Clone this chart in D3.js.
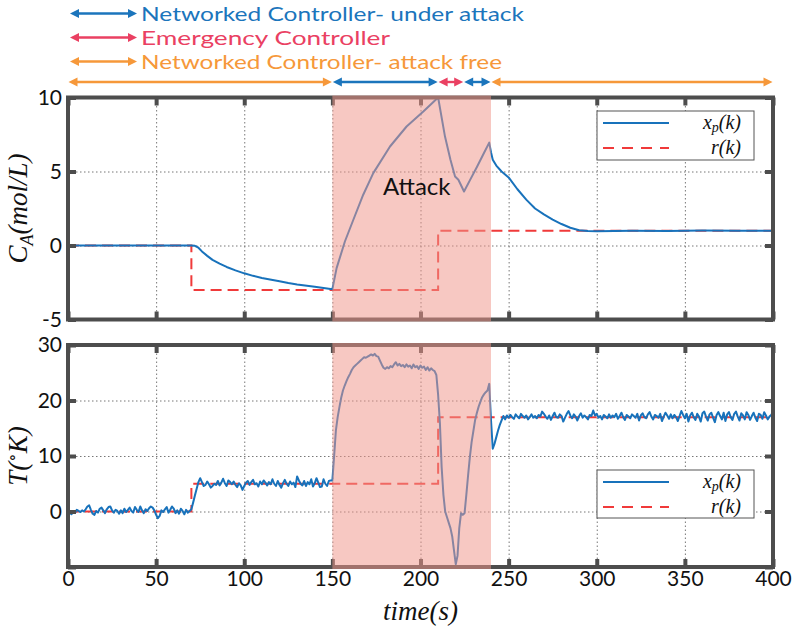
<!DOCTYPE html>
<html>
<head>
<meta charset="utf-8">
<script src="https://cdn.jsdelivr.net/npm/d3@7"></script>
<style>
  body { margin: 0; background: #fff; }
  svg { display: block; }
</style>
</head>
<body>
<svg id="chart" width="792" height="627"></svg>
<script>
// ---- Concentration C_A (top panel): irregularly sampled plant output ----
const caTime = [0, 70, 72, 74, 76, 79, 82, 86, 90, 95, 100, 105, 110, 120, 125, 130, 140, 150,
  152.4, 157.1, 161.9, 167.5, 173.2, 182.7, 192.1, 201.6, 210,
  213.9, 217, 219.6, 221.5, 224.7, 228, 232, 236, 239,
  240, 241, 243, 246, 250, 255, 260, 265, 270, 275, 280, 285, 290,
  295, 300, 320, 340, 360, 380, 400];
const caValues = [0, 0, -0.02, -0.15, -0.4, -0.7, -0.97, -1.22, -1.45, -1.68, -1.88, -2.05, -2.2, -2.42, -2.54, -2.63, -2.78, -2.95,
  -1.53, 0.27, 1.74, 3.43, 4.89, 6.69, 8.04, 9.05, 10,
  7.36, 5.8, 4.66, 4.44, 3.65, 4.4, 5.3, 6.25, 6.95,
  6.3, 5.8, 5.4, 5.0, 4.6, 3.8, 3.1, 2.5, 2.1, 1.75, 1.45, 1.2, 1.03,
  0.98, 0.97, 1.0, 0.98, 1.01, 0.99, 1.0];

// Set-point for C_A
const caRefTime = [0, 70, 70, 210, 210, 400];
const caRefValues = [0, 0, -3, -3, 1, 1];

// ---- Temperature T (bottom panel): one sample per second, t = 0..400 ----
const tempIdle = [ // t = 0..70
  0.2, -0.3, -0.5, 0.1, -0.2, 0.3, 0.1, -0.1, 0.2, 0.0,
  0.4, 0.9, 1.1, 0.3, -0.4, -0.6, 0.1, -0.2, 0.5, 0.7,
  0.2, -0.3, 0.4, 0.8, 0.9, 0.2, -0.2, 0.3, 0.1, -0.4,
  0.2, -0.3, 0.5, -0.1, 0.3, 0.7, 0.1, -0.2, 0.8, 0.3,
  -0.1, 0.9, 0.2, -0.3, 0.4, 0.1, 0.6, 0.9, 0.7, 0.2,
  -0.6, -1.2, -0.8, 0.2, -0.1, 0.4, 0.8, -0.2, 0.3, 0.9,
  0.5, -0.3, 0.2, -0.4, 0.5, 0.1, -0.5, 0.3, -0.2, 0.1,
  0.4];
const tempStep = [ // t = 71..150
  1.6, 2.9, 4.1, 5.3, 6.0, 5.3, 4.6, 4.8, 5.4, 4.9,
  4.3, 4.6, 5.0, 4.8, 5.5, 4.7, 5.2, 5.9, 5.1, 4.6,
  5.6, 5.3, 4.9, 5.4, 4.8, 4.4, 5.1, 4.7, 3.9, 4.6,
  5.2, 5.5, 4.8, 5.3, 5.7, 4.9, 5.1, 4.5, 5.4, 4.9,
  5.6, 5.2, 4.7, 5.3, 4.9, 5.8, 5.0, 4.6, 5.5, 4.8,
  4.3, 5.1, 5.7, 5.0, 4.6, 5.4, 4.9, 5.2, 4.4, 6.3,
  5.6, 5.0, 4.7, 5.5, 4.6, 5.3, 4.9, 5.8, 4.5, 5.1,
  6.0, 5.2, 4.4, 4.5, 5.8, 5.0, 4.6, 5.5, 5.6, 5.6];
const tempAttack = [ // t = 151..247
  10, 14.6, 17, 18.8, 20.5, 21.8, 22.7, 23.5, 24.2, 24.8,
  25.5, 26.0, 26.3, 26.6, 26.9, 27.2, 27.5, 27.8, 27.7, 27.9,
  28.1, 28.3, 28.1, 28.4, 28.0, 27.9, 27.2, 26.5, 25.9, 25.7,
  26.0, 25.8, 26.2, 26.0, 26.5, 26.9, 26.3, 26.6, 26.2, 26.4,
  26.0, 26.5, 26.1, 26.3, 25.8, 26.5, 26.0, 26.2, 25.7, 26.3,
  25.9, 26.1, 25.5, 26.0, 25.4, 25.8, 25.5, 25.3, 24.6, 21.0,
  16.0, 8.0, 3.0, 0.0, -1.0, -2.0, -3.0, -4.5, -7.0, -9.5,
  -8.0, -3.0, -0.3, -0.6, -0.3, 3.0, 6.5, 9.8, 12.5, 14.5,
  16.5, 17.8, 18.9, 19.8, 20.6, 21.1, 21.5, 21.8, 23.0, 16.5,
  11.3, 12.2, 13.4, 14.6, 15.6, 16.4, 17.2];
const tempSettled = [ // t = 248..400
  16.6, 17.3, 16.9, 17.4, 17.0, 16.7, 17.5, 17.1, 16.8, 17.6,
  17.2, 16.9, 17.3, 16.6, 17.0, 17.5, 16.9, 17.2, 16.8, 17.4,
  17.1, 18.0, 17.6, 17.1, 16.7, 17.3, 16.5, 17.2, 17.8, 17.0,
  16.9, 17.5, 17.2, 16.2, 16.9, 17.6, 18.1, 17.3, 16.8, 17.5,
  17.1, 16.4, 17.2, 17.7, 16.9, 17.3, 17.0, 16.6, 17.4, 17.2,
  18.2, 17.3, 17.6, 16.9, 17.2, 16.6, 17.4, 17.1, 16.8, 17.5,
  16.9, 17.3, 17.0, 17.6, 16.7, 17.2, 17.8, 17.0, 16.5, 17.4,
  17.1, 16.8, 17.5, 17.2, 16.9, 17.6, 16.4, 17.3, 17.7, 17.0,
  16.8, 17.5, 17.9, 17.1, 16.6, 17.4, 17.2, 16.9, 17.6, 16.3,
  17.1, 17.8, 17.3, 16.7, 17.5, 16.8, 17.4, 17.0, 16.3, 17.2,
  18.1, 17.4, 16.8, 17.6, 16.2, 17.3, 17.8, 17.0, 16.5, 17.6,
  17.1, 16.2, 17.7, 18.0, 17.1, 16.4, 17.5, 17.8, 16.9, 16.1,
  17.4, 17.9, 17.2, 16.6, 17.8, 16.3, 17.5, 17.9, 17.0, 16.5,
  17.6, 18.0, 17.1, 16.4, 17.7, 17.3, 16.6, 17.9, 17.4, 16.5,
  17.2, 17.8, 16.9, 16.3, 17.6, 17.4, 16.7, 17.9, 17.3, 16.6,
  17.1, 17.4, 18.0];
const tempValues = tempIdle.concat(tempStep, tempAttack, tempSettled);

// Set-point for T
const tempRefTime = [0, 70, 70, 210, 210, 400];
const tempRefValues = [0, 0, 5, 5, 17, 17];

// Attack window and controller phases
const attackStart = 150, attackEnd = 240;
const phaseStart = [0, 150, 210, 224.5, 240];
const phaseEnd = [150, 210, 224.5, 240, 400];
const phaseKind = ["free", "attack", "emergency", "attack", "free"];

// Axis ticks
const timeTicks = [0, 50, 100, 150, 200, 250, 300, 350, 400];
const caTicks = [-5, 0, 5, 10];
const tempTicks = [-10, 0, 10, 20, 30];
const tempTickLabels = [0, 10, 20, 30];

// Controller legend entries
const phaseLabels = ["Networked Controller- under attack", "Emergency Controller", "Networked Controller- attack free"];
const phaseLabelKinds = ["attack", "emergency", "free"];
const phaseLabelWidths = [383, 249, 361];

const phaseColor = { attack: "#1b75bc", emergency: "#ea4062", free: "#f6983a" };
const lineBlue = "#1872bb";
const lineRed = "#f03a3a";
const frameColor = "#4d4d4d";
const sans = "Lato, 'Open Sans', sans-serif";
const serif = "'Liberation Serif', 'DejaVu Serif', serif";

const svg = d3.select("#chart");
const x = d3.scaleLinear().domain([0, 400]).range([68, 773]);

// Double-headed arrow
function arrow(g, x1, x2, y, color) {
  const head = 9, half = 4.5;
  g.append("line").attr("x1", x1 + head - 1).attr("x2", x2 - head + 1)
    .attr("y1", y).attr("y2", y).attr("stroke", color).attr("stroke-width", 2.4);
  g.append("path").attr("fill", color)
    .attr("d", `M${x1},${y}L${x1 + head},${y - half}L${x1 + head},${y + half}Z`);
  g.append("path").attr("fill", color)
    .attr("d", `M${x2},${y}L${x2 - head},${y - half}L${x2 - head},${y + half}Z`);
}

// Controller legend (top left)
const legTop = svg.append("g");
phaseLabels.forEach((label, i) => {
  const y = 13.5 + i * 24;
  const c = phaseColor[phaseLabelKinds[i]];
  arrow(legTop, 70, 137, y, c);
  legTop.append("text").attr("x", 141).attr("y", y).attr("dy", "0.35em")
    .attr("font-family", sans).attr("font-size", 20).attr("fill", c)
    .attr("textLength", phaseLabelWidths[i]).attr("lengthAdjust", "spacingAndGlyphs")
    .text(label);
});

// Phase timeline above the upper panel
const timeline = svg.append("g");
phaseStart.forEach((s, i) => {
  arrow(timeline, x(s) + 0.5, x(phaseEnd[i]) - 0.5, 82, phaseColor[phaseKind[i]]);
});

function drawPanel(cfg) {
  const y = cfg.y;
  const top = y.range()[1], bottom = y.range()[0];
  const left = x.range()[0], right = x.range()[1];
  const g = svg.append("g");

  // dotted grid
  g.append("g").attr("transform", `translate(0,${bottom})`)
    .call(d3.axisBottom(x).tickValues(timeTicks.slice(1, -1)).tickSize(-(bottom - top)).tickFormat(""))
    .call(a => a.select(".domain").remove())
    .selectAll("line").attr("stroke", "#777").attr("stroke-width", 1).attr("stroke-dasharray", "1.5,2.5");
  g.append("g").attr("transform", `translate(${left},0)`)
    .call(d3.axisLeft(y).tickValues(cfg.ticks.slice(1, -1)).tickSize(-(right - left)).tickFormat(""))
    .call(a => a.select(".domain").remove())
    .selectAll("line").attr("stroke", "#777").attr("stroke-width", 1).attr("stroke-dasharray", "1.5,2.5");

  // reference (dashed) then plant output
  const ref = d3.line().x((d, i) => x(cfg.refTime[i])).y(d => y(d));
  g.append("path").datum(cfg.refValues).attr("d", ref)
    .attr("fill", "none").attr("stroke", lineRed).attr("stroke-width", 2)
    .attr("stroke-dasharray", "11,6");
  const out = d3.line().x((d, i) => x(cfg.time ? cfg.time[i] : i)).y(d => y(d));
  g.append("path").datum(cfg.values).attr("d", out)
    .attr("fill", "none").attr("stroke", lineBlue).attr("stroke-width", 2)
    .attr("stroke-linejoin", "round");

  // frame
  g.append("rect").attr("x", left).attr("y", top).attr("width", right - left).attr("height", bottom - top)
    .attr("fill", "none").attr("stroke", frameColor).attr("stroke-width", 4);

  // inward tick marks on all four sides
  const tickStyle = a => {
    a.select(".domain").remove();
    a.selectAll("line").attr("stroke", frameColor).attr("stroke-width", 4);
  };
  g.append("g").attr("transform", `translate(0,${bottom})`)
    .call(d3.axisBottom(x).tickValues(timeTicks).tickSize(-8).tickFormat("")).call(tickStyle);
  g.append("g").attr("transform", `translate(0,${top})`)
    .call(d3.axisTop(x).tickValues(timeTicks).tickSize(-8).tickFormat("")).call(tickStyle);
  g.append("g").attr("transform", `translate(${left},0)`)
    .call(d3.axisLeft(y).tickValues(cfg.ticks).tickSize(-8).tickFormat("")).call(tickStyle);
  g.append("g").attr("transform", `translate(${right},0)`)
    .call(d3.axisRight(y).tickValues(cfg.ticks).tickSize(-8).tickFormat("")).call(tickStyle);

  // tick labels
  g.append("g").attr("transform", `translate(${left},0)`)
    .call(d3.axisLeft(y).tickValues(cfg.labels).tickSize(0).tickPadding(6).tickFormat(d => String(d)))
    .call(a => a.select(".domain").remove())
    .call(a => a.selectAll("text").attr("font-family", sans).attr("font-size", 21).attr("fill", "#111"));
  if (cfg.timeLabels) {
    g.append("g").attr("transform", `translate(0,${bottom})`)
      .call(d3.axisBottom(x).tickValues(timeTicks).tickSize(0).tickPadding(4).tickFormat(d => String(d)))
      .call(a => a.select(".domain").remove())
      .call(a => a.selectAll("text").attr("font-family", sans).attr("font-size", 21).attr("fill", "#111"));
  }

  // attack window overlay
  g.append("rect").attr("x", x(attackStart)).attr("y", top - 2)
    .attr("width", x(attackEnd) - x(attackStart)).attr("height", bottom - top + 4)
    .attr("fill", "rgb(240,150,138)").attr("fill-opacity", 0.52);

  // y-axis title
  const yt = g.append("text")
    .attr("transform", `translate(${cfg.titleX},${(top + bottom) / 2}) rotate(-90)`)
    .attr("text-anchor", "middle").attr("font-family", serif).attr("font-style", "italic")
    .attr("font-size", 27).attr("fill", "#111");
  cfg.title(yt);

  // series legend
  const L = cfg.legend;
  const lg = g.append("g");
  lg.append("rect").attr("x", L.x).attr("y", L.y).attr("width", 157).attr("height", L.h)
    .attr("fill", "#fff").attr("stroke", "#555").attr("stroke-width", 1);
  const r1 = L.y + 12, r2 = L.y + 37;
  lg.append("line").attr("x1", L.x + 6).attr("x2", L.x + 72).attr("y1", r1).attr("y2", r1)
    .attr("stroke", lineBlue).attr("stroke-width", 2);
  lg.append("line").attr("x1", L.x + 6).attr("x2", L.x + 72).attr("y1", r2).attr("y2", r2)
    .attr("stroke", lineRed).attr("stroke-width", 2).attr("stroke-dasharray", "11,8");
  const t1 = lg.append("text").attr("x", L.x + 144).attr("y", r1).attr("dy", "0.3em")
    .attr("text-anchor", "end").attr("font-family", serif).attr("font-style", "italic")
    .attr("font-size", 20).attr("fill", "#111");
  t1.append("tspan").text("x");
  t1.append("tspan").attr("font-size", 14).attr("dy", 3).text("p");
  t1.append("tspan").attr("dy", -3).text("(k)");
  lg.append("text").attr("x", L.x + 144).attr("y", r2).attr("dy", "0.3em")
    .attr("text-anchor", "end").attr("font-family", serif).attr("font-style", "italic")
    .attr("font-size", 20).attr("fill", "#111").text("r(k)");
  return g;
}

const yCa = d3.scaleLinear().domain([-5, 10]).range([319.5, 97.5]);
const topPanel = drawPanel({
  y: yCa, ticks: caTicks, labels: caTicks,
  time: caTime, values: caValues, refTime: caRefTime, refValues: caRefValues,
  titleX: 27,
  title: t => {
    t.append("tspan").text("C");
    t.append("tspan").attr("font-size", 18).attr("dy", 6).text("A");
    t.append("tspan").attr("dy", -6).text("(mol/L)");
  },
  legend: { x: 597, y: 111, h: 49 }
});
topPanel.append("text").attr("x", 383).attr("y", 195)
  .attr("font-family", sans).attr("font-size", 24).attr("fill", "#111").text("Attack");

const yT = d3.scaleLinear().domain([-10, 30]).range([567, 345]);
drawPanel({
  y: yT, ticks: tempTicks, labels: tempTickLabels,
  time: null, values: tempValues, refTime: tempRefTime, refValues: tempRefValues,
  timeLabels: true,
  titleX: 27,
  title: t => {
    t.append("tspan").text("T(");
    t.append("tspan").attr("font-size", 17).attr("dy", -9).text("∘");
    t.append("tspan").attr("dy", 9).text("K)");
  },
  legend: { x: 597, y: 470, h: 48 }
});

svg.append("text").attr("x", 420.5).attr("y", 620).attr("text-anchor", "middle")
  .attr("font-family", serif).attr("font-style", "italic").attr("font-size", 27)
  .attr("fill", "#111").text("time(s)");
</script>
</body>
</html>
